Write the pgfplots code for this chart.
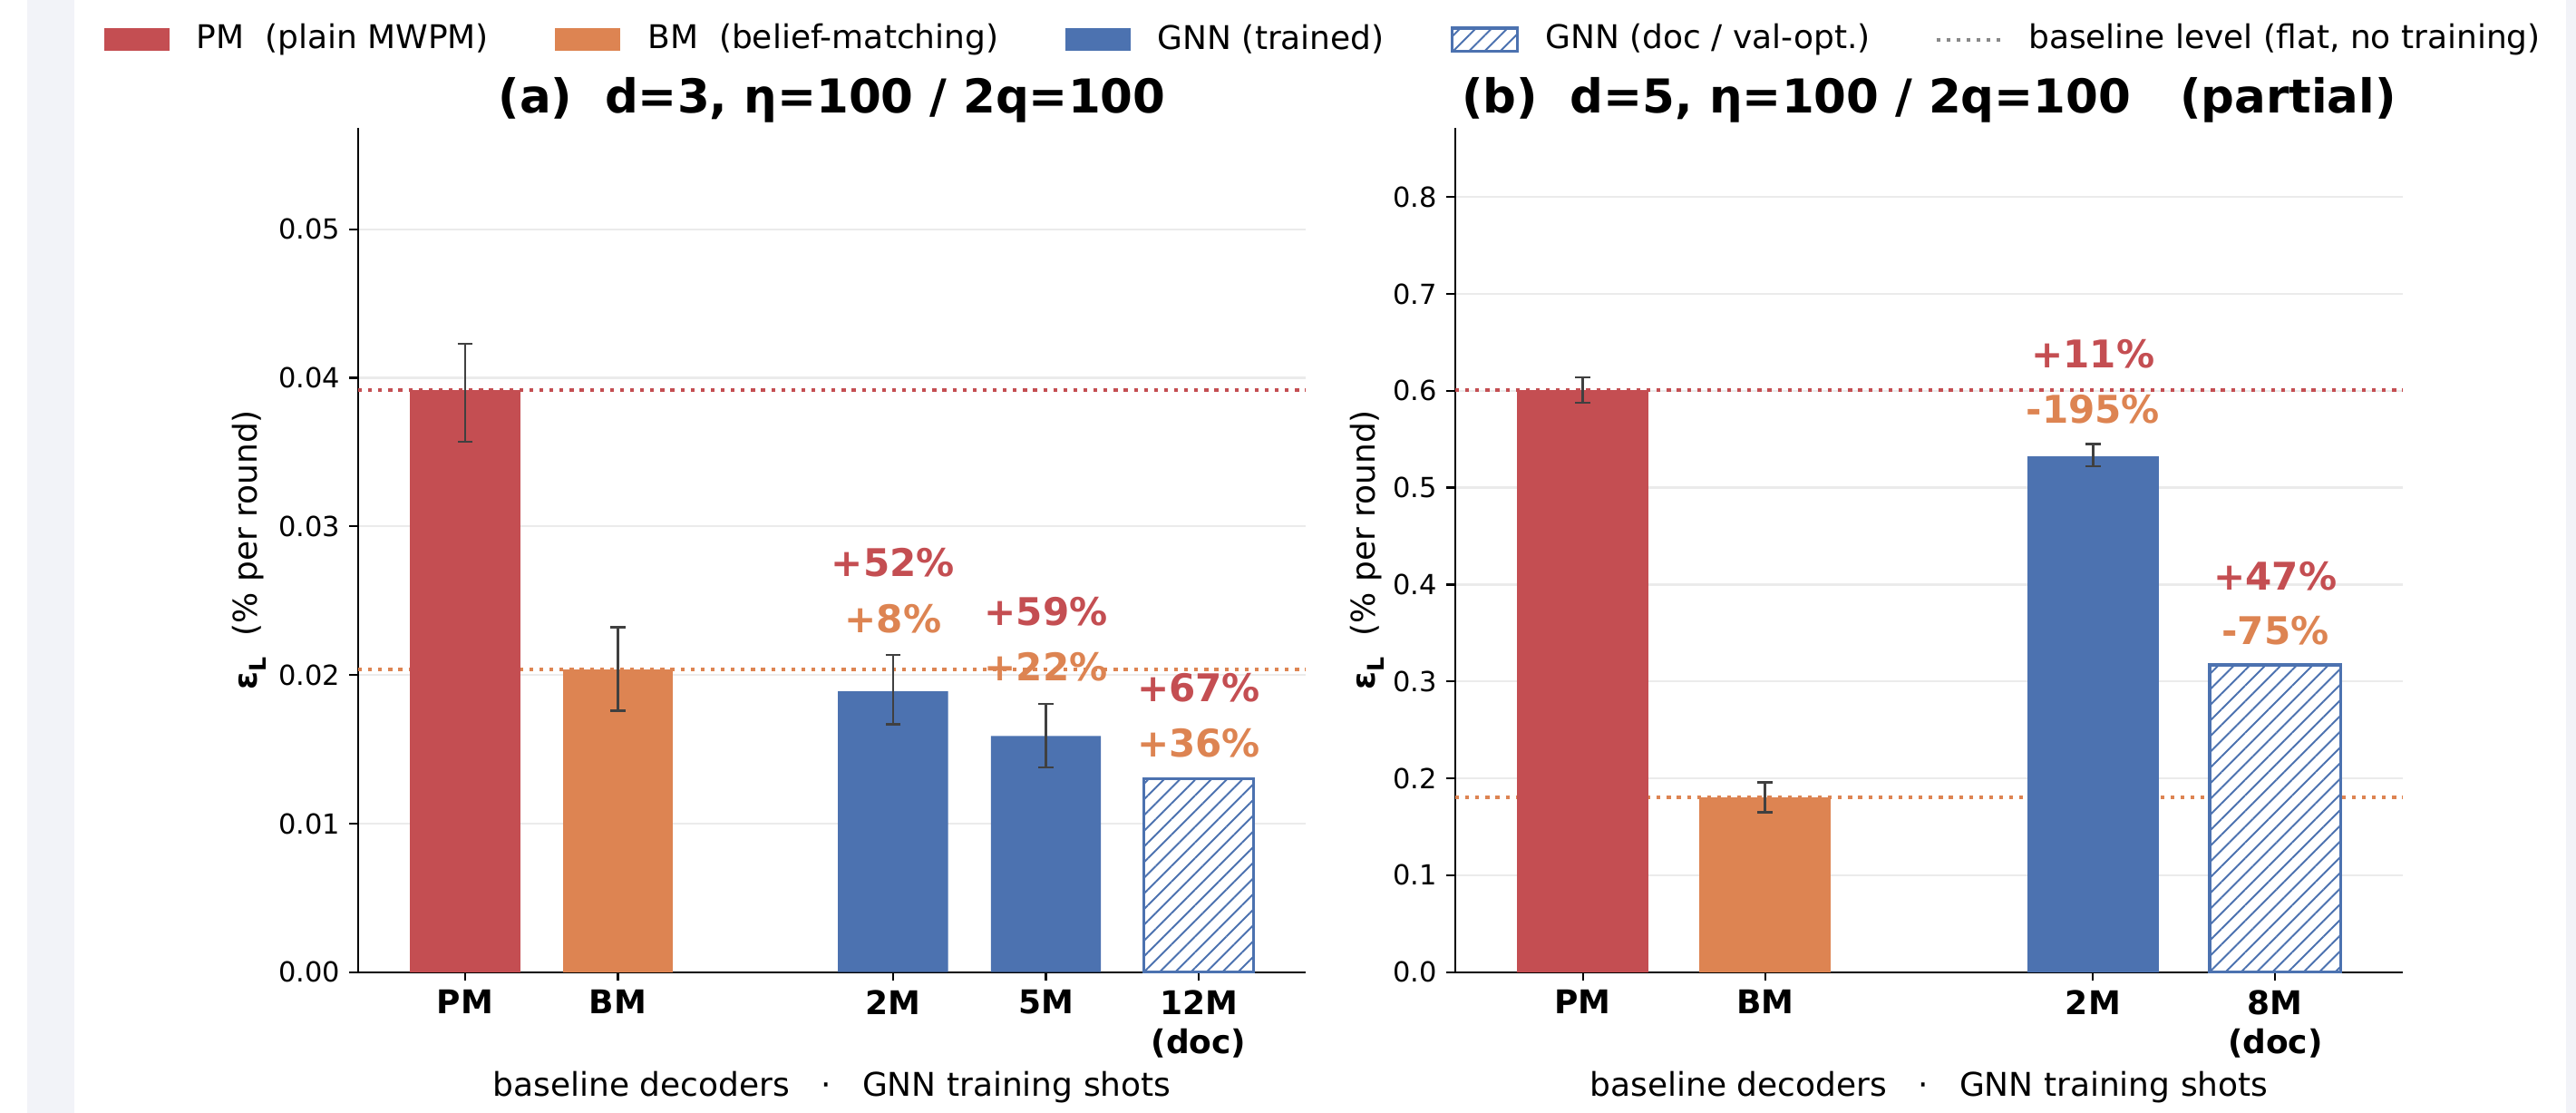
\documentclass[border=0pt]{standalone}
\usepackage{fontspec}
\setmainfont{DejaVu Sans}
\usepackage{pgfplots}
\pgfplotsset{compat=1.18}
\usepackage{pgfplotstable}
\usetikzlibrary{patterns.meta}

\definecolor{cPM}{HTML}{C44E52}
\definecolor{cBM}{HTML}{DD8452}
\definecolor{cGNN}{HTML}{4C72B0}
\definecolor{gridc}{HTML}{EBEBEB}
\definecolor{stripc}{HTML}{F2F3F8}
\definecolor{errc}{HTML}{404040}
\definecolor{legdot}{HTML}{888888}

% panel (a)
\pgfplotstableread{
x y ep em
0 0.0392 0.0031 0.0035
}\aPM
\pgfplotstableread{
x y ep em
1 0.0204 0.0028 0.0028
}\aBM
\pgfplotstableread{
x y ep em
2.8 0.0189 0.00245 0.00223
3.8 0.0159 0.00214 0.00213
}\aGNN
\pgfplotstableread{
x y
4.8 0.0130
}\aDOC
% panel (b)
\pgfplotstableread{
x y ep em
0 0.601 0.0128 0.0134
}\bPM
\pgfplotstableread{
x y ep em
1 0.1805 0.0154 0.0156
}\bBM
\pgfplotstableread{
x y ep em
2.8 0.532 0.013 0.010
}\bGNN
\pgfplotstableread{
x y
3.8 0.317
}\bDOC

\tikzset{
  annot/.style={font=\bfseries\fontsize{15.2}{18}\selectfont, text=#1, inner sep=0pt, anchor=center},
  legpatch/.style={minimum width=26bp, minimum height=9.1bp, inner sep=0pt, anchor=west},
  legtxt/.style={font=\fontsize{13}{15.6}\selectfont, inner sep=0pt, anchor=west},
}

\pgfplotsset{
  myax/.style={
    scale only axis, width=376.2bp, height=335.16bp,
    anchor=south west,
    axis lines*=left,
    axis line style={line width=0.8bp, black},
    tick align=outside, tick pos=left,
    major tick length=3.5bp,
    major tick style={line width=0.8bp, black},
    ymajorgrids, grid style={gridc, line width=0.8bp},
    enlargelimits=false, ymin=0,
    scaled y ticks=false,
    clip=false,
    yticklabel style={font=\fontsize{11}{13}\selectfont, anchor=east, inner sep=0pt, xshift=-3.5bp},
    xticklabel style={font=\bfseries\fontsize{13}{15.6}\selectfont, align=center, anchor=north, inner sep=0pt, yshift=-3.5bp},
    title style={at={(0.5,1)}, anchor=base, inner sep=0pt, font=\bfseries\fontsize{18.6}{22}\selectfont},
    xlabel style={at={(axis description cs:0.5,-0.1464)}, anchor=base, inner sep=0pt, font=\fontsize{13}{15.6}\selectfont},
    ylabel style={anchor=center, inner sep=0pt, font=\fontsize{13}{15.6}\selectfont},
    xlabel={baseline decoders\ \ \ ·\ \ \ GNN training shots},
    ylabel={{\bfseries ε\raisebox{-0.28em}{\fontsize{9.1}{9.1}\selectfont L}}\ \ (\% per round)},
  },
  barst/.style={ybar, bar width=0.72, bar shift=0pt, fill=#1, draw=none,
    error bars/.cd, y dir=both, y explicit,
    error bar style={line width=0.9bp, draw=errc},
    error mark options={rotate=90, line width=0.9bp, draw=errc, mark size=3bp}},
  hatchst/.style={ybar, bar width=0.72, bar shift=0pt, draw=cGNN, line width=1.2bp,
    preaction={fill=white},
    pattern={Lines[angle=45,distance=4.4bp,line width=0.7bp]}, pattern color=cGNN},
  baseln/.style={#1, line width=1.5bp, dash pattern=on 1.5bp off 2.5bp, sharp plot, forget plot},
}

\begin{document}
\begin{tikzpicture}
\useasboundingbox (0,0) rectangle (1022.76bp,441.72bp);
\fill[stripc] (10.8bp,0) rectangle (29.52bp,441.72bp);
\fill[stripc] (1018.8bp,0) rectangle (1022.76bp,441.72bp);

% ---------------- panel (a)
\begin{axis}[myax, at={(142.2bp,55.9bp)},
  xmin=-0.7, xmax=5.5, ymax=0.05684,
  ytick={0,0.01,0.02,0.03,0.04,0.05},
  yticklabels={0.00,0.01,0.02,0.03,0.04,0.05},
  xtick={0,1,2.8,3.8,4.8},
  xticklabels={PM,BM,2M,5M,{12M\\(doc)}},
  title={(a)\ \ d=3, η=100 / 2q=100},
  ylabel style={at={(axis description cs:-0.115,0.5)}},
]
\addplot[baseln=cPM] coordinates {(-0.7,0.0392) (5.5,0.0392)};
\addplot[baseln=cBM] coordinates {(-0.7,0.0204) (5.5,0.0204)};
\addplot[barst=cPM] table[x=x,y=y,y error plus=ep,y error minus=em] {\aPM};
\addplot[barst=cBM] table[x=x,y=y,y error plus=ep,y error minus=em] {\aBM};
\addplot[barst=cGNN] table[x=x,y=y,y error plus=ep,y error minus=em] {\aGNN};
\addplot[hatchst] table[x=x,y=y] {\aDOC};
\node[annot=cPM] at (axis cs:2.8,0.02755) {+52\%};
\node[annot=cBM] at (axis cs:2.8,0.02380) {+8\%};
\node[annot=cPM] at (axis cs:3.8,0.02428) {+59\%};
\node[annot=cBM] at (axis cs:3.8,0.02053) {+22\%};
\node[annot=cPM] at (axis cs:4.8,0.01915) {+67\%};
\node[annot=cBM] at (axis cs:4.8,0.01544) {+36\%};
\end{axis}

% ---------------- panel (b)
\begin{axis}[myax, at={(577.8bp,55.9bp)},
  xmin=-0.7, xmax=4.5, ymax=0.8715,
  ytick={0,0.1,0.2,0.3,0.4,0.5,0.6,0.7,0.8},
  yticklabels={0.0,0.1,0.2,0.3,0.4,0.5,0.6,0.7,0.8},
  xtick={0,1,2.8,3.8},
  xticklabels={PM,BM,2M,{8M\\(doc)}},
  title={(b)\ \ d=5, η=100 / 2q=100\ \ \ (partial)},
  ylabel style={at={(axis description cs:-0.0932,0.5)}},
]
\addplot[baseln=cPM] coordinates {(-0.7,0.601) (4.5,0.601)};
\addplot[baseln=cBM] coordinates {(-0.7,0.1805) (4.5,0.1805)};
\addplot[barst=cPM] table[x=x,y=y,y error plus=ep,y error minus=em] {\bPM};
\addplot[barst=cBM] table[x=x,y=y,y error plus=ep,y error minus=em] {\bBM};
\addplot[barst=cGNN] table[x=x,y=y,y error plus=ep,y error minus=em] {\bGNN};
\addplot[hatchst] table[x=x,y=y] {\bDOC};
\node[annot=cPM] at (axis cs:2.8,0.638) {+11\%};
\node[annot=cBM] at (axis cs:2.8,0.581) {-195\%};
\node[annot=cPM] at (axis cs:3.8,0.409) {+47\%};
\node[annot=cBM] at (axis cs:3.8,0.352) {-75\%};
\end{axis}

% ---------------- legend
\node[legpatch, fill=cPM] (p1) at (41.04bp,426bp) {};
\node[legtxt] (t1) at ([xshift=10.4bp]p1.east) {PM\ \ (plain MWPM)};
\node[legpatch, fill=cBM] (p2) at ([xshift=26bp]t1.east) {};
\node[legtxt] (t2) at ([xshift=10.4bp]p2.east) {BM\ \ (belief-matching)};
\node[legpatch, fill=cGNN] (p3) at ([xshift=26bp]t2.east) {};
\node[legtxt] (t3) at ([xshift=10.4bp]p3.east) {GNN (trained)};
\node[legpatch, draw=cGNN, line width=1.2bp, preaction={fill=white},
  pattern={Lines[angle=45,distance=4.4bp,line width=0.7bp]}, pattern color=cGNN] (p4) at ([xshift=26bp]t3.east) {};
\node[legtxt] (t4) at ([xshift=10.4bp]p4.east) {GNN (doc / val-opt.)};
\coordinate (d1) at ([xshift=26bp]t4.east);
\draw[legdot, line width=1.5bp, dash pattern=on 1.5bp off 2.5bp] (d1) -- ([xshift=26bp]d1);
\node[legtxt] (t5) at ([xshift=36.4bp]d1) {baseline level (flat, no training)};
\end{tikzpicture}
\end{document}
